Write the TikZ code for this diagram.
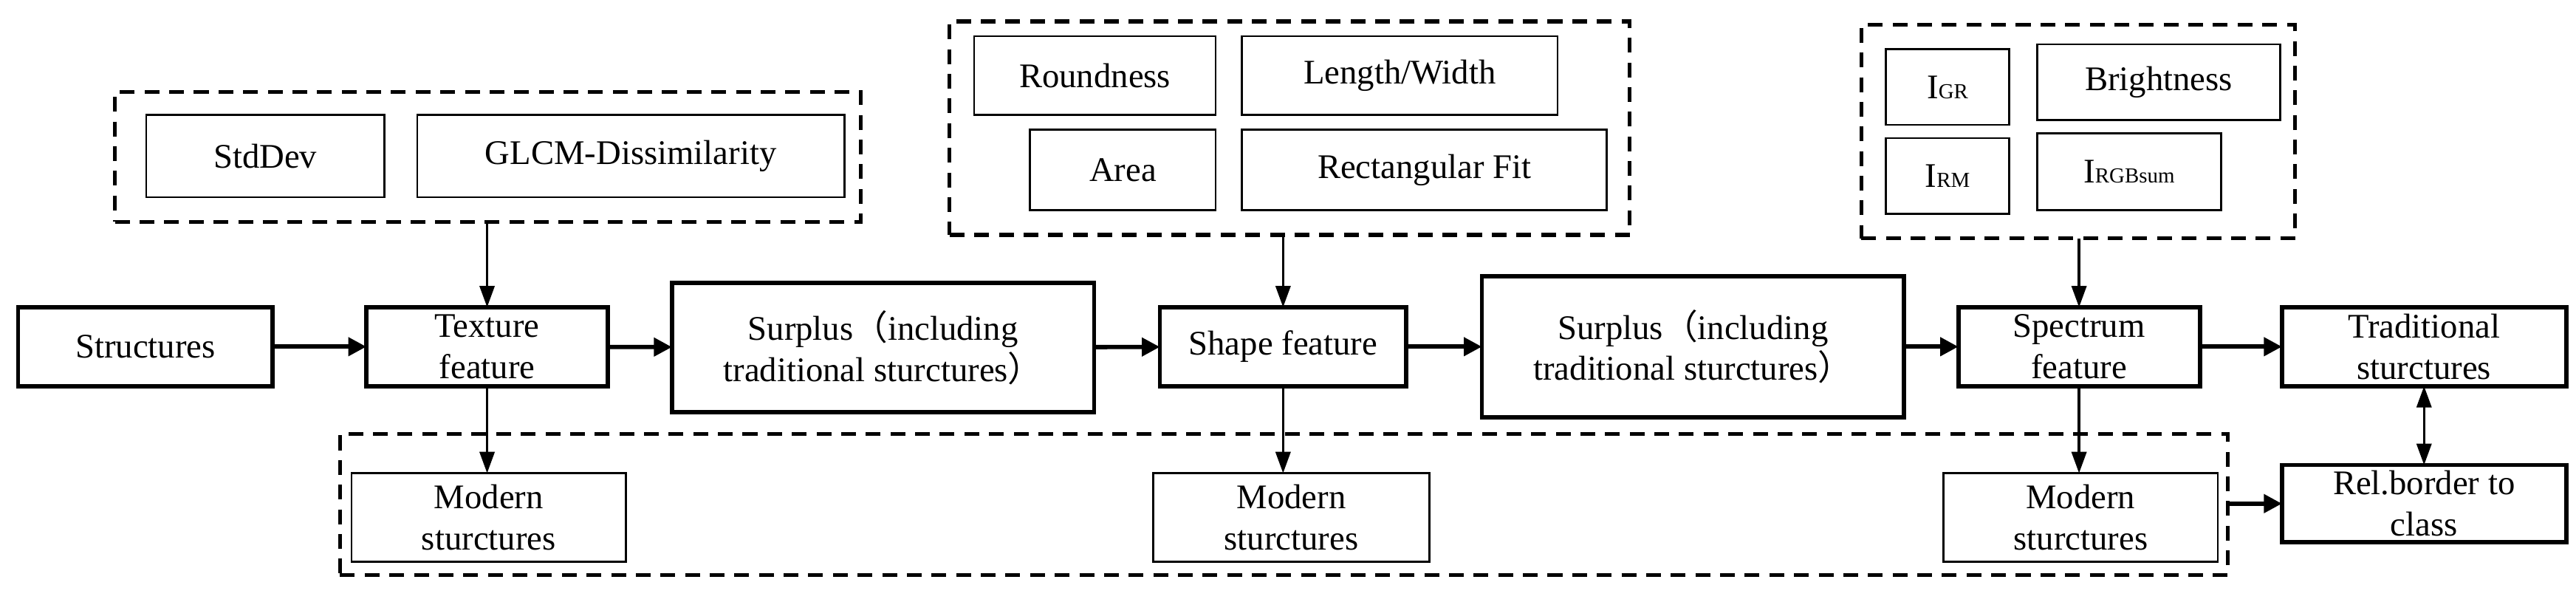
\documentclass[tikz,border=0pt]{standalone}
\usepackage{fontspec}
\setmainfont{Liberation Serif}
\newfontfamily\cjk{Noto Sans CJK SC}
\usetikzlibrary{arrows.meta}
\newcommand\mybox[7]{\node[#6, minimum width={(#4-#2)*1pt}, minimum height={(#5-#3)*1pt}] (#1) at ({(#2+#4)/2},{(#3+#5)/2}) {#7};}
\newcommand\sub[1]{{\fontsize{13}{13}\selectfont #1}}
\begin{document}
\begin{tikzpicture}[x=1pt,y=-1pt,
  base/.style={draw, inner sep=0pt, outer sep=0pt, align=center, font=\fontsize{21}{25}\selectfont},
  thick box/.style={base, line width=2.6pt},
  thin box/.style={base, line width=1.2pt},
  dbox/.style={draw, dash pattern=on 9pt off 6pt, line width=2.4pt, inner sep=0pt, outer sep=0pt},
  harr/.style={line width=2.6pt, -{Triangle[length=11pt,width=11pt]}},
  varr/.style={line width=1.6pt, -{Triangle[length=13pt,width=9pt]}},
  darr/.style={line width=1.6pt, {Triangle[length=13pt,width=9pt]}-{Triangle[length=13pt,width=9pt]}}]
\useasboundingbox (0,0) rectangle (1568,366);
% dashed groups
\mybox{g1}{70}{56}{524}{135}{dbox}{}
\mybox{g2}{578}{13}{992}{143}{dbox}{}
\mybox{g3}{1133}{15}{1397}{145}{dbox}{}
\mybox{g4}{207}{264}{1356}{350}{dbox}{}
% inner boxes
\mybox{sd}{89}{70}{234}{120}{thin box}{StdDev}
\mybox{gl}{254}{70}{514}{120}{thin box}{GLCM-Dissimilarity}
\mybox{ro}{593}{22}{740}{70}{thin box}{Roundness}
\mybox{lw}{756}{22}{948}{70}{thin box}{Length/Width}
\mybox{ar}{627}{79}{740}{128}{thin box}{Area}
\mybox{rf}{756}{79}{978}{128}{thin box}{Rectangular Fit}
\mybox{igr}{1148}{30}{1223}{76}{thin box}{I\sub{GR}}
\mybox{br}{1240}{27}{1388}{73}{thin box}{Brightness}
\mybox{irm}{1148}{84}{1223}{130}{thin box}{I\sub{RM}}
\mybox{irgb}{1240}{81}{1352}{128}{thin box}{I\sub{RGBsum}}
% main row
\mybox{st}{11}{187}{166}{235}{thick box}{Structures}
\mybox{tx}{223}{187}{370}{235}{thick box}{Texture\\feature}
\mybox{s1}{409}{172}{666}{251}{thick box}{Surplus{\cjk （}including\\traditional sturctures{\cjk ）}}
\mybox{sh}{706}{187}{856}{235}{thick box}{Shape feature}
\mybox{s2}{902}{168}{1159}{254}{thick box}{Surplus{\cjk （}including\\traditional sturctures{\cjk ）}}
\mybox{sp}{1192}{187}{1339}{235}{thick box}{Spectrum\\feature}
\mybox{tr}{1389}{187}{1562}{235}{thick box}{Traditional\\sturctures}
% bottom
\mybox{m1}{214}{288}{381}{342}{thin box}{Modern\\sturctures}
\mybox{m2}{702}{288}{870}{342}{thin box}{Modern\\sturctures}
\mybox{m3}{1183}{288}{1350}{342}{thin box}{Modern\\sturctures}
\mybox{rb}{1389}{283}{1562}{330}{thick box}{Rel.border to\\class}
% arrows
\draw[harr] (st) -- (tx);
\draw[harr] (tx) -- (s1);
\draw[harr] (s1) -- (sh);
\draw[harr] (sh) -- (s2);
\draw[harr] (s2) -- (sp);
\draw[harr] (sp) -- (tr);
\draw[varr] (tx.north |- g1.south) -- (tx.north);
\draw[varr] (sh.north |- g2.south) -- (sh.north);
\draw[varr] (sp.north |- g3.south) -- (sp.north);
\draw[varr] (tx.south) -- (tx.south |- m1.north);
\draw[varr] (sh.south) -- (sh.south |- m2.north);
\draw[varr] (sp.south) -- (sp.south |- m3.north);
\draw[harr] (g4.east |- rb.west) -- (rb.west);
\draw[darr] (tr) -- (rb);
\end{tikzpicture}
\end{document}
